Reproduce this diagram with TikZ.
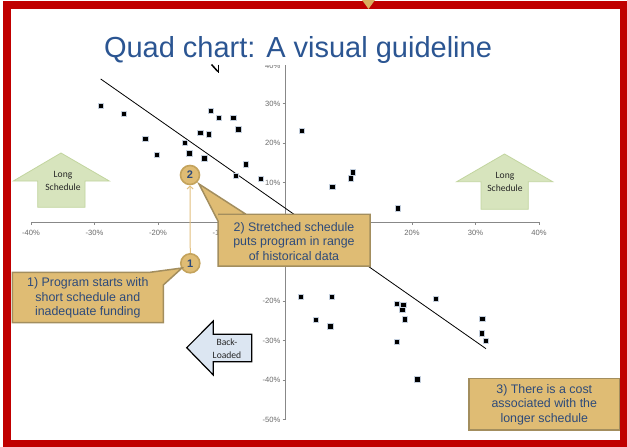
\documentclass[tikz,border=0pt]{standalone}
\usepackage{fontspec}
\setmainfont{Liberation Sans}
\newfontfamily\calfont{Carlito}
\usetikzlibrary{arrows.meta}
\definecolor{framered}{HTML}{C00000}
\definecolor{titleblue}{HTML}{2B5592}
\definecolor{tanfill}{HTML}{DFBC74}
\definecolor{tanedge}{HTML}{A38E5E}
\definecolor{circedge}{HTML}{C4A35C}
\definecolor{linktan}{HTML}{E2C07E}
\definecolor{toptri}{HTML}{D9AE5E}
\definecolor{txtblue}{HTML}{2D4A7A}
\definecolor{axisgray}{HTML}{888888}
\definecolor{lblgray}{HTML}{6A6A6A}
\definecolor{greenfill}{HTML}{D7E4BD}
\definecolor{greenedge}{HTML}{C2D59F}
\definecolor{bluefill}{HTML}{DCE6F2}
\definecolor{markedge}{HTML}{C4CFDD}
\begin{document}
\begin{tikzpicture}[x=1pt,y=-1pt,
  axlbl/.style={font=\fontsize{7.6}{8}\selectfont, text=lblgray, inner sep=0},
  datapt/.style={rectangle, fill=black, draw=markedge, line width=0.45pt, minimum size=5.2pt, inner sep=0},
  callbox/.style={fill=tanfill, draw=tanedge, line width=1.5pt, line join=miter},
  calltext/.style={font=\fontsize{12.4}{14.7}\selectfont, text=txtblue, align=center, inner sep=0},
  numcirc/.style={circle, fill=tanfill, draw=circedge, line width=1.6pt, minimum size=19pt, inner sep=0, font=\fontsize{11}{12}\selectfont\bfseries, text=txtblue},
  greenarrow/.style={fill=greenfill, draw=greenedge, line width=0.8pt},
  arrowtext/.style={font=\calfont\fontsize{9.6}{13}\selectfont, text=black!85, align=center, inner sep=0}
]
\useasboundingbox (0,0) rectangle (627,447);
% frame
\fill[white] (0,0) rectangle (627,447);
\fill[framered] (3,1) rectangle (627,447);
\fill[white] (11,9) rectangle (620,440);
% title
\node[font=\fontsize{29}{32}\selectfont, text=titleblue, anchor=base, inner sep=0] (title) at (298,57) {Quad chart: A visual guideline};
% axes (clipped at top)
\begin{scope}
\clip (0,65) rectangle (627,447);
\draw[axisgray, line width=0.8pt] (285,64) -- (285,419.5);
\draw[axisgray, line width=0.8pt] (31,222) -- (539,222);
\foreach \k in {-4,...,4} \draw[axisgray, line width=0.7pt] ({285+63.5*\k},222) -- ({285+63.5*\k},224.5);
\foreach \k in {-5,...,4} \draw[axisgray, line width=0.7pt] (282.5,{222-39.5*\k}) -- (285,{222-39.5*\k});
\node[axlbl, anchor=east] (ylabtop) at (280.5,65.5) {40\%};
\foreach \k/\t [count=\i] in {3/30\%,2/20\%,1/10\%,-2/-20\%,-3/-30\%,-4/-40\%,-5/-50\%}
  \node[axlbl, anchor=east] (ylab\i) at (280.5,{222-39.5*\k}) {\t};
\end{scope}
\foreach \k/\t [count=\i] in {-4/-40\%,-3/-30\%,-2/-20\%,-1/-10\%,2/20\%,3/30\%,4/40\%}
  \node[axlbl] (xlab\i) at ({285+63.5*\k},232.5) {\t};
% trend line
\coordinate (tA) at (100.7,79);
\coordinate (tB) at (486,348.7);
\draw[black, line width=0.8pt] (tA) -- (tB);
% data points
\foreach \x/\y [count=\i] in {100.7/105.7,124/113.7,145.3/139,156.7/154.7,185/143,189.3/153.3,200.3/132.7,208.7/134.3,211/110.7,219/118,233.3/117.7,238.3/129.3,204.3/158.3,246/164.3,235.7/175.5,261/178.5,301.7/130.7,352.7/172.3,350.7/178.3,332.3/187,397.7/208.3,300.7/296.7,331.7/296.7,316/319.7,330.3/326.3,396.7/303.7,403.3/304.7,402.3/310,404.7/319.3,396.7/342,436/298.7,482.3/318.7,482/333.3,486/340.7,417.3/379.3}
  \node[datapt] (p\i) at (\x,\y) {};
% stray clipped mark
\draw[black, line width=1.5pt, line cap=butt] (211.5,64.5) -- (217.8,71.5);
\draw[black, line width=1.5pt, line cap=butt] (218.5,64.5) -- (218.5,73);
% Long Schedule arrows
\draw[greenarrow] (61,153) -- (109.3,181) -- (85,181) -- (85,207.3) -- (37.7,207.3) -- (37.7,181) -- (13.3,181) -- cycle;
\node[arrowtext] (ls1) at (63,181) {Long\\Schedule};
\draw[greenarrow] (504.5,154) -- (552.7,181.7) -- (528.3,181.7) -- (528.3,209.3) -- (481,209.3) -- (481,181.7) -- (456.7,181.7) -- cycle;
\node[arrowtext] (ls2) at (505,182) {Long\\Schedule};
% Back-Loaded arrow
\draw[fill=bluefill, draw=black, line width=1.2pt, line join=miter] (186.7,347.7) -- (213.3,321) -- (213.3,334.3) -- (251.7,334.3) -- (251.7,361.7) -- (213.3,361.7) -- (213.3,375) -- cycle;
\node[arrowtext] (bl) at (227,348.5) {Back-\\Loaded};
% callout 2
\draw[callbox] (218,214.3) -- (246,214.3) -- (370,214.3) -- (370,266) -- (218,266) -- (218,221) -- (199,184) -- (246,214.3);
\fill[tanfill] (218.8,215) rectangle (369.2,265.2);
\node[calltext] (t2) at (294,241.5) {2) Stretched schedule\\puts program in range\\of historical data};
% numbered circles and link
\node[numcirc] (c2) at (190,175) {2};
\node[numcirc] (c1) at (190.3,263.3) {1};
\draw[linktan, line width=1pt, -{Straight Barb[length=3pt,width=6pt]}] (c1) -- (c2);
% callout 1
\draw[callbox] (12.3,272.3) -- (150,272.3) -- (182,268) -- (163.3,285) -- (163.3,322.7) -- (12.3,322.7) -- cycle;
\node[calltext] (t1) at (87.8,298) {1) Program starts with\\short schedule and\\inadequate funding};
% callout 3
\draw[callbox] (469,378.7) rectangle (619.5,430);
\node[calltext] (t3) at (544.3,404.5) {3) There is a cost\\associated with the\\longer schedule};
% top marker
\fill[toptri] (362,0) -- (375,0) -- (368.5,9) -- cycle;
\end{tikzpicture}
\end{document}
